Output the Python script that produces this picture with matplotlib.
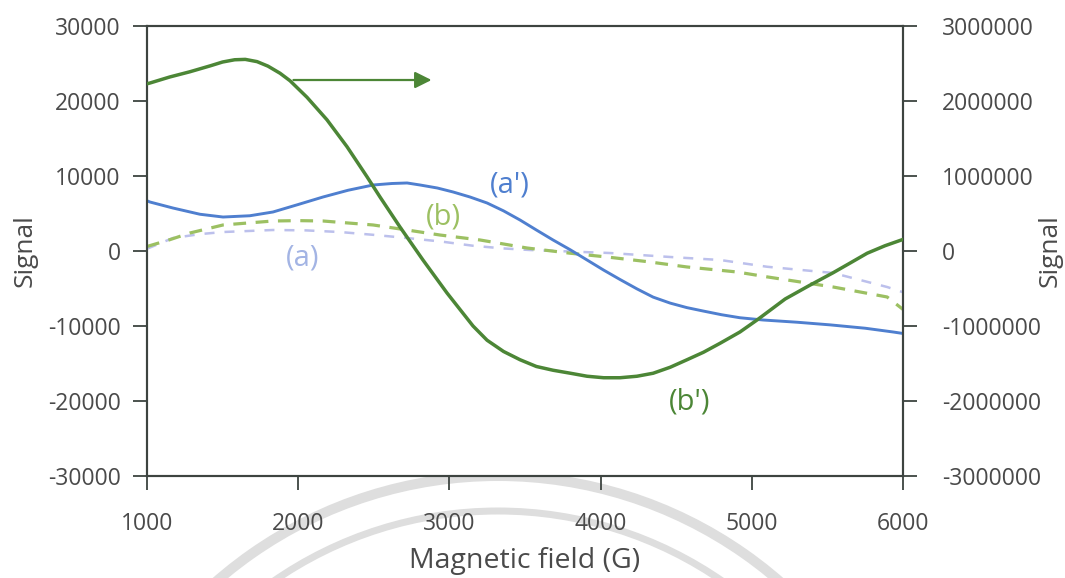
import matplotlib.pyplot as plt
from matplotlib.patches import Arc
from matplotlib.ticker import FuncFormatter

# --- data (x in G) ---
a_prime_x = [1000, 1020, 1172, 1350, 1503, 1680, 1833, 2000, 2164, 2330, 2495, 2620,
             2720, 2806, 2920, 3024, 3136, 3249, 3358, 3467, 3575, 3685, 3800, 3910,
             4020, 4128, 4240, 4347, 4460, 4570, 4677, 4800, 4921, 5074, 5300, 5517,
             5750, 5934, 6000]
a_prime_y = [6700, 6530, 5730, 4900, 4530, 4700, 5200, 6200, 7200, 8100, 8800, 9000,
             9070, 8800, 8400, 7870, 7200, 6400, 5350, 4130, 2800, 1470, 150, -1200,
             -2550, -3800, -5050, -6150, -6950, -7550, -8000, -8500, -8900, -9200,
             -9500, -9850, -10300, -10800, -11000]

a_x = [1000, 1172, 1350, 1503, 1833, 2050, 2276, 2500, 2720, 2950, 3156, 3350,
       3533, 3800, 4062, 4460, 4790, 5100, 5537, 5894, 6000]
a_y = [300, 1730, 2250, 2530, 2800, 2750, 2530, 2150, 1730, 1250, 700, 350,
       130, -70, -270, -800, -1200, -2100, -2930, -4800, -5500]

b_x = [1000, 1150, 1284, 1503, 1833, 2000, 2164, 2495, 2720, 2938, 3202, 3513,
       3800, 4042, 4300, 4571, 4902, 5100, 5537, 5894, 6000]
b_y = [600, 1500, 2400, 3470, 4000, 4050, 4000, 3470, 2800, 2130, 1470, 400,
       -300, -800, -1400, -2130, -2800, -3450, -4800, -6130, -7800]

b_prime_x = [1000, 1020, 1150, 1284, 1420, 1500, 1580, 1650, 1728, 1800, 1880, 1946,
             2058, 2190, 2323, 2455, 2541, 2673, 2825, 2984, 3156, 3249, 3358, 3467,
             3575, 3685, 3800, 3910, 4020, 4128, 4240, 4347, 4460, 4571, 4680, 4790,
             4921, 5034, 5220, 5380, 5537, 5650, 5762, 5880, 5993]
b_prime_y = [2230000, 2240000, 2320000, 2390000, 2470000, 2520000, 2550000, 2555000,
             2525000, 2465000, 2370000, 2270000, 2050000, 1750000, 1390000, 990000,
             720000, 320000, -120000, -560000, -1000000, -1190000, -1340000,
             -1450000, -1540000, -1590000, -1630000, -1670000, -1690000, -1690000,
             -1670000, -1630000, -1550000, -1450000, -1350000, -1230000, -1080000,
             -920000, -640000, -460000, -290000, -160000, -30000, 70000, 150000]

left_ticks = [-30000, -20000, -10000, 0, 10000, 20000, 30000]
right_ticks = [-3000000, -2000000, -1000000, 0, 1000000, 2000000, 3000000]
x_ticks = [1000, 2000, 3000, 4000, 5000, 6000]

BLUE = "#4f7fcf"
LAVENDER = "#bcc0ec"
LIGHT_GREEN = "#9cc062"
DARK_GREEN = "#4c8636"
AXIS = "#3d4440"
TEXT = "#4a4a4a"

plt.rcParams["font.family"] = ["Open Sans", "DejaVu Sans"]

fig = plt.figure(figsize=(10.65, 5.78), dpi=100)
ax = fig.add_axes([0.138, 0.1765, 0.710, 0.7785])
ax2 = ax.twinx()

# faint watermark arcs (pixel geometry of the scanned page), drawn behind
for r, w in [(429, 10), (394, 7)]:
    arc = Arc((498 / 100, (578 - 905) / 100), 2 * r / 100, 2 * r / 100,
              theta1=20, theta2=160, color="#dedede", lw=w * 0.72,
              transform=fig.dpi_scale_trans, zorder=0)
    fig.add_artist(arc)

ax.plot(a_x, a_y, color=LAVENDER, lw=1.8, ls=(0, (4, 4)), zorder=3)
ax.plot(b_x, b_y, color=LIGHT_GREEN, lw=2.3, ls=(0, (4, 3)), zorder=3)
ax.plot(a_prime_x, a_prime_y, color=BLUE, lw=2.1, zorder=4)
ax2.plot(b_prime_x, b_prime_y, color=DARK_GREEN, lw=2.5, zorder=5)

ax.annotate("", xy=(2900, 22800), xytext=(1950, 22800),
            arrowprops=dict(arrowstyle="-|>,head_length=1.0,head_width=0.5",
                            color=DARK_GREEN, lw=1.6), zorder=6)

ax.text(3400, 8800, "(a')", color=BLUE, fontsize=21, ha="center", va="center")
ax.text(2958, 4500, "(b)", color=LIGHT_GREEN, fontsize=21, ha="center", va="center")
ax.text(2032, -1000, "(a)", color="#a3b4e4", fontsize=21, ha="center", va="center")
ax.text(4590, -20200, "(b')", color=DARK_GREEN, fontsize=21, ha="center", va="center")

ax.set_xlim(1000, 6000)
ax.set_ylim(-30000, 30000)
ax2.set_ylim(-3000000, 3000000)
ax.set_xticks(x_ticks)
ax.set_yticks(left_ticks)
ax2.set_yticks(right_ticks)
fmt = FuncFormatter(lambda v, _: f"{int(v)}")
ax.yaxis.set_major_formatter(fmt)
ax2.yaxis.set_major_formatter(fmt)

for a in (ax, ax2):
    for s in a.spines.values():
        s.set_color(AXIS)
        s.set_linewidth(1.5)
    a.tick_params(colors=AXIS, labelcolor=TEXT, labelsize=16.5, width=1.3, length=10,
                  direction="out")
ax.tick_params(axis="y", pad=9)
ax.tick_params(axis="x", pad=16)
ax2.tick_params(axis="y", pad=18)

ax.set_ylabel("Signal", fontsize=19, color=TEXT)
ax2.set_ylabel("Signal", fontsize=19, color=TEXT)
ax.yaxis.set_label_coords(-0.144, 0.5)
ax2.yaxis.set_label_coords(1.178, 0.5)
ax.set_xlabel("Magnetic field (G)", fontsize=20.5, color=TEXT, labelpad=8)

fig.savefig("out.png", dpi=100, facecolor="white")
